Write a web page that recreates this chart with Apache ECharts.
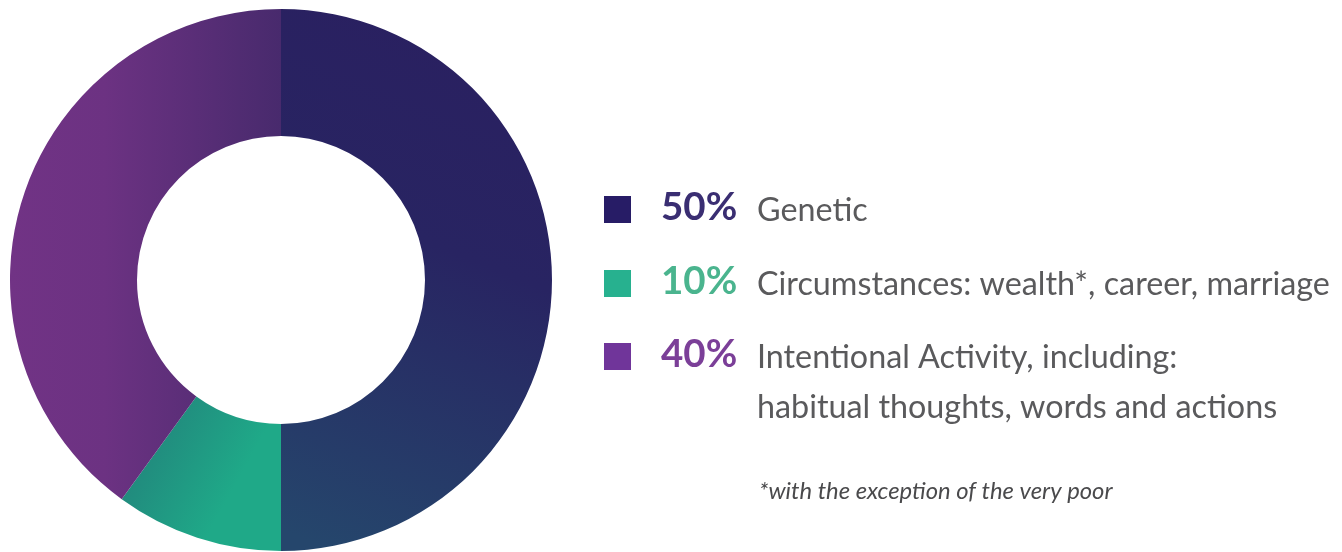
<!DOCTYPE html>
<html>
<head>
<meta charset="utf-8">
<script src="https://cdn.jsdelivr.net/npm/echarts@6/dist/echarts.min.js"></script>
<style>
html,body{margin:0;padding:0;background:#ffffff;}
#chart{width:1342px;height:552px;}
</style>
</head>
<body>
<div id="chart"></div>
<script>
// ---- data ----
const categories = ['Genetic', 'Circumstances', 'Intentional Activity'];
const values = [50, 10, 40];
const descriptions = [
  'Genetic',
  'Circumstances: wealth*, career, marriage',
  'Intentional Activity, including:\nhabitual thoughts, words and actions'
];
const footnote = '*with the exception of the very poor';

// ---- styles ----
const swatchColors = ['#271c66', '#27b18f', '#70359a'];
const percentColors = ['#3a2e72', '#4ab48e', '#7b3f98'];
const sliceGradients = [
  {x: 1, y: 0, x2: 0.2, y2: 1, colorStops: [
    {offset: 0, color: '#2a1f60'}, {offset: 0.45, color: '#282462'}, {offset: 1, color: '#25466c'}]},
  {x: 0, y: 0.2, x2: 0.7, y2: 0.6, colorStops: [
    {offset: 0, color: '#22807a'}, {offset: 1, color: '#1fa988'}]},
  {x: 0, y: 0, x2: 1, y2: 0, colorStops: [
    {offset: 0, color: '#713385'}, {offset: 0.35, color: '#6c3282'}, {offset: 1, color: '#482a6d'}]}
];

const chart = echarts.init(document.getElementById('chart'), null, {renderer: 'canvas'});

const rowY = [209, 283, 356];
const graphics = [];
categories.forEach((c, i) => {
  graphics.push({
    type: 'rect', left: 604, top: rowY[i] - 13,
    shape: {width: 27, height: 27},
    style: {fill: swatchColors[i]}
  });
  graphics.push({
    type: 'text', x: 661, y: rowY[i] - 1,
    style: {
      text: values[i] + '%', fill: percentColors[i],
      font: 'bold 38.5px Lato', verticalAlign: 'middle', align: 'left'
    }
  });
  graphics.push({
    type: 'text', x: 757, y: rowY[i] - 23,
    style: {
      text: descriptions[i], fill: '#5a5a5c',
      font: '32.3px Lato', lineHeight: 50, verticalAlign: 'top', align: 'left'
    }
  });
});
graphics.push({
  type: 'text', x: 759, y: 491,
  style: {text: footnote, fill: '#4a4a4c', font: 'italic 23.8px Lato', verticalAlign: 'middle', align: 'left'}
});

chart.setOption({
  animation: false,
  backgroundColor: '#ffffff',
  series: [{
    type: 'pie',
    center: [281, 280],
    radius: [144, 271],
    startAngle: 90,
    clockwise: true,
    label: {show: false},
    labelLine: {show: false},
    emphasis: {disabled: true},
    itemStyle: {borderWidth: 0},
    data: categories.map((c, i) => ({
      name: c, value: values[i],
      itemStyle: {color: Object.assign({type: 'linear', global: false}, sliceGradients[i])}
    }))
  }],
  graphic: graphics
});
</script>
</body>
</html>
